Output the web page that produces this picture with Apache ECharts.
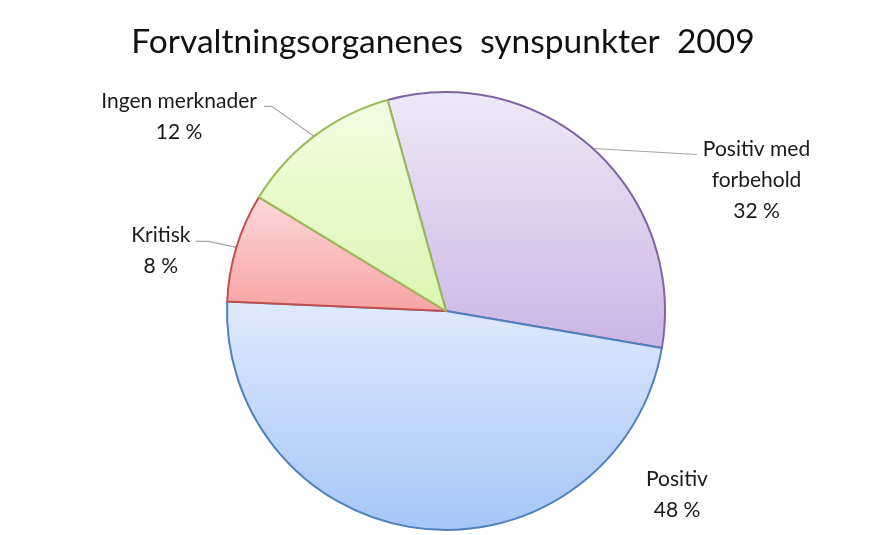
<!DOCTYPE html>
<html>
<head>
<meta charset="utf-8">
<script src="https://cdn.jsdelivr.net/npm/echarts@6/dist/echarts.min.js"></script>
<style>
html,body{margin:0;padding:0;background:#fff;}
#chart{width:886px;height:535px;}
</style>
</head>
<body>
<div id="chart"></div>
<script>
const titleText = 'Forvaltningsorganenes  synspunkter  2009';
const categories = ['Positiv med\nforbehold', 'Positiv', 'Kritisk', 'Ingen merknader'];
const values = [32, 48, 8, 12];
const percentLabels = ['32 %', '48 %', '8 %', '12 %'];

const fills = [
  ['#eee9f7', '#cbb6e5'],
  ['#dfeafd', '#a6c5f8'],
  ['#fcd8d8', '#f8a3a3'],
  ['#f3fde2', '#dbf6b0']
];
const borders = ['#7f64a1', '#4f81bd', '#c0504d', '#9bbb59'];
// leader-line shape: elbow offset from the slice edge, then horizontal run
const elbow = [[52, 3], null, [-28, -6], [-42, -30]];
const run = [52, 0, -13, -8];
const textGap = [6, 0, 5, 7];
const textDy = [-21, 0, -22, -21];

const chart = echarts.init(document.getElementById('chart'));
const FONT = 'Lato, "Liberation Sans", sans-serif';

const data = categories.map((c, i) => ({
  name: c,
  value: values[i],
  itemStyle: {
    color: new echarts.graphic.LinearGradient(0, 0, 0, 1, [
      {offset: 0, color: fills[i][0]},
      {offset: 1, color: fills[i][1]}
    ]),
    borderColor: borders[i],
    borderWidth: 2
  },
  label: {
    formatter: c + '\n' + percentLabels[i]
  },
  labelLine: {
    show: i !== 1,
    length: 10,
    length2: 10
  }
}));

chart.setOption({
  backgroundColor: '#ffffff',
  animation: false,
  title: {
    text: titleText,
    left: 'center',
    top: 20,
    textStyle: {fontFamily: FONT, fontSize: 33.5, fontWeight: 'normal', color: '#111'}
  },
  series: [{
    type: 'pie',
    center: [446, 311],
    radius: 219,
    startAngle: 105.5,
    clockwise: true,
    data: data,
    label: {
      show: true,
      position: 'outside',
      fontFamily: FONT,
      fontSize: 21,
      lineHeight: 31,
      color: '#1a1a1a',
      align: 'center'
    },
    labelLine: {
      lineStyle: {color: '#a6a6a6', width: 1.2},
      smooth: false
    },
    emphasis: {disabled: true},
    labelLayout: function (params) {
      const i = params.dataIndex;
      const r = params.labelRect;
      const p = params.labelLinePoints;
      if (i === 1) {
        return {x: 677, y: 464, align: 'center', verticalAlign: 'top'};
      }
      const s = p[0];
      const m = [s[0] + elbow[i][0], s[1] + elbow[i][1]];
      const e = [m[0] + run[i], m[1] + (i === 0 ? 3 : 0)];
      const right = run[i] > 0;
      const cx = right ? e[0] + textGap[i] + r.width / 2 : e[0] - textGap[i] - r.width / 2;
      return {
        x: cx, y: e[1] + textDy[i], align: 'center', verticalAlign: 'top',
        labelLinePoints: [s, m, e]
      };
    }
  }]
});
</script>
</body>
</html>
